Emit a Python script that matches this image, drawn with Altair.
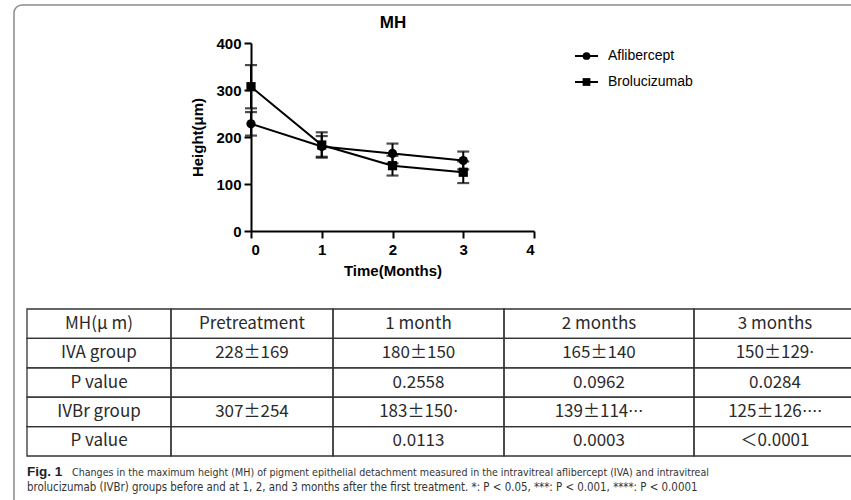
import altair as alt
import pandas as pd

# ---------------- data ----------------
months = [0, 1, 2, 3]
series_names = ["Aflibercept", "Brolucizumab"]
afl_mean = [228, 180, 165, 150]
afl_err = [25, 22, 21, 19]
bro_mean = [307, 183, 139, 125]
bro_err = [46, 27, 21, 23]

x_ticks = [0, 1, 2, 3, 4]
y_ticks = [0, 100, 200, 300, 400]

table_header = ["MH(μ m)", "Pretreatment", "1 month", "2 months", "3 months"]
table_row_iva = ["IVA group", "228±169", "180±150", "165±140", "150±129⋅"]
table_row_p1 = ["P value", "", "0.2558", "0.0962", "0.0284"]
table_row_ivbr = ["IVBr group", "307±254", "183±150⋅", "139±114⋅⋅⋅", "125±126⋅⋅⋅⋅"]
table_row_p2 = ["P value", "", "0.0113", "0.0003", "＜0.0001"]

caption_bold = "Fig. 1"
caption_line1 = ("Changes in the maximum height (MH) of pigment epithelial detachment measured "
                 "in the intravitreal aflibercept (IVA) and intravitreal")
caption_line2 = ("brolucizumab (IVBr) groups before and at 1, 2, and 3 months after the first "
                 "treatment. *: P < 0.05, ***: P < 0.001, ****: P < 0.0001")

# ---------------- layout constants ----------------
W, H = 851, 500
PLOT_X = [251, 534]
PLOT_Y = [231, 43]
col_widths = [144, 162, 171, 190, 162]
TABLE_X = [27, 27 + sum(col_widths)]
TABLE_Y = [309, 456]
LEGEND_Y = [56, 82]

BLACK = "black"
FONT = "Liberation Sans"

# ---------------- tables ----------------
rows = []
for name, means, errs in [("Aflibercept", afl_mean, afl_err), ("Brolucizumab", bro_mean, bro_err)]:
    for m, v, e in zip(months, means, errs):
        rows.append({"month": m, "series": name, "mean": v, "lo": v - e, "hi": v + e})
df = pd.DataFrame(rows)

xscale = alt.Scale(domain=[0, 4], range=PLOT_X, nice=False, zero=False)
yscale = alt.Scale(domain=[0, 400], range=PLOT_Y, nice=False)
xaxis = alt.Axis(values=x_ticks, offset=-(H - PLOT_Y[0]), title="Time(Months)", format="d",
                 labelPadding=4, titlePadding=6)
yaxis = alt.Axis(values=y_ticks, offset=-PLOT_X[0], title="Height(μm)", format="d",
                 labelPadding=3, titlePadding=10)
shape_scale = alt.Scale(domain=series_names, range=["circle", "square"])

X = alt.X("month:Q", scale=xscale, axis=xaxis)

lines = alt.Chart(df).mark_line(color=BLACK, strokeWidth=2).encode(
    x=X, y=alt.Y("mean:Q", scale=yscale, axis=yaxis), detail="series:N")
bars = alt.Chart(df).mark_rule(color=BLACK, strokeWidth=2).encode(
    x=X, y=alt.Y("lo:Q", scale=yscale, axis=yaxis), y2="hi:Q")
cap_lo = alt.Chart(df).mark_tick(color=BLACK, orient="horizontal", size=12, thickness=2.2).encode(
    x=X, y=alt.Y("lo:Q", scale=yscale, axis=yaxis))
cap_hi = alt.Chart(df).mark_tick(color=BLACK, orient="horizontal", size=12, thickness=2.2).encode(
    x=X, y=alt.Y("hi:Q", scale=yscale, axis=yaxis))
pts = alt.Chart(df).mark_point(filled=True, color=BLACK, opacity=1, size=85).encode(
    x=X, y=alt.Y("mean:Q", scale=yscale, axis=yaxis),
    shape=alt.Shape("series:N", scale=shape_scale, legend=None))
plot = alt.layer(lines, bars, cap_lo, cap_hi, pts)

# legend drawn through a point scale over the series names
leg_df = pd.DataFrame({"series": series_names})
leg_y = alt.Y("series:N", scale=alt.Scale(type="point", domain=series_names, range=LEGEND_Y, padding=0),
              axis=None)
leg_rule = alt.Chart(leg_df).mark_rule(color=BLACK, strokeWidth=2).encode(
    x=alt.value(575), x2=alt.value(598), y=leg_y)
leg_pt = alt.Chart(leg_df).mark_point(filled=True, color=BLACK, opacity=1, size=60).encode(
    x=alt.value(586.5), y=leg_y, shape=alt.Shape("series:N", scale=shape_scale, legend=None))
leg_txt = alt.Chart(leg_df).mark_text(align="left", baseline="middle", font=FONT, fontSize=14,
                                      color=BLACK).encode(x=alt.value(608), y=leg_y, text="series:N")
legend = alt.layer(leg_rule, leg_pt, leg_txt)

title = alt.Chart(leg_df.head(1)).mark_text(text="MH", font=FONT, fontSize=17, fontWeight="bold",
                                            align="center", baseline="middle", color=BLACK).encode(
    x=alt.value(393), y=alt.value(22.5))

# table
table_rows = [table_header, table_row_iva, table_row_p1, table_row_ivbr, table_row_p2]
edges = [0]
for w in col_widths:
    edges.append(edges[-1] + w)
cells = []
for r, row in enumerate(table_rows):
    for c, txt in enumerate(row):
        cells.append({"r": r, "c": c, "text": txt, "x0": edges[c], "x1": edges[c + 1],
                      "xm": (edges[c] + edges[c + 1]) / 2})
cell_df = pd.DataFrame(cells)
tx = alt.Scale(domain=[0, edges[-1]], range=TABLE_X, nice=False, zero=False)
ty = alt.Scale(type="band", domain=list(range(len(table_rows))), range=TABLE_Y,
               paddingInner=0, paddingOuter=0)
t_rect = alt.Chart(cell_df).mark_rect(filled=False, stroke="#333333", strokeWidth=1.3).encode(
    x=alt.X("x0:Q", scale=tx, axis=None), x2="x1:Q", y=alt.Y("r:O", scale=ty, axis=None))
t_text = alt.Chart(cell_df).mark_text(font="Noto Sans CJK JP", fontSize=17, color="#2a2a2a",
                                      baseline="middle", align="center").encode(
    x=alt.X("xm:Q", scale=tx, axis=None), y=alt.Y("r:O", scale=ty, axis=None, bandPosition=0.5),
    text="text:N")
table = alt.layer(t_rect, t_text)

# caption
one = pd.DataFrame({"k": [0]})
CAP_FONT = "Liberation Sans Narrow, DejaVu Sans Condensed, Arial Narrow, sans-serif"
cap_b = alt.Chart(one).mark_text(text=caption_bold, font="Liberation Sans", fontWeight="bold",
                                 fontSize=13.5, align="left", baseline="alphabetic",
                                 color="#222222").encode(x=alt.value(27), y=alt.value(476))
cap_1 = alt.Chart(one).mark_text(text=caption_line1, font=CAP_FONT, fontSize=10.6, align="left",
                                 baseline="alphabetic", color="#333333").encode(
    x=alt.value(72), y=alt.value(476))
cap_2 = alt.Chart(one).mark_text(text=caption_line2, font=CAP_FONT, fontSize=11.4, align="left",
                                 baseline="alphabetic", color="#333333").encode(
    x=alt.value(27), y=alt.value(491))

frame = alt.Chart(one).mark_rect(filled=False, stroke="#8a8a8a", strokeWidth=1.5, cornerRadius=8).encode(
    x=alt.value(14), y=alt.value(5), x2=alt.value(920), y2=alt.value(620))

chart = alt.layer(frame, plot, legend, title, table, cap_b, cap_1, cap_2).resolve_scale(
    x="independent", y="independent", shape="shared"
).properties(
    width=W, height=H, padding=0, autosize=alt.AutoSizeParams(type="none"), background="white"
).configure_view(stroke=None).configure_axis(
    grid=False, domainColor=BLACK, domainWidth=2, tickColor=BLACK, tickWidth=2, tickSize=7,
    labelFont=FONT, labelFontSize=15, labelFontWeight="bold", labelColor=BLACK,
    titleFont=FONT, titleFontSize=15, titleFontWeight="bold", titleColor=BLACK
)

chart.save("out.html", embed_options={"renderer": "svg", "actions": False})
